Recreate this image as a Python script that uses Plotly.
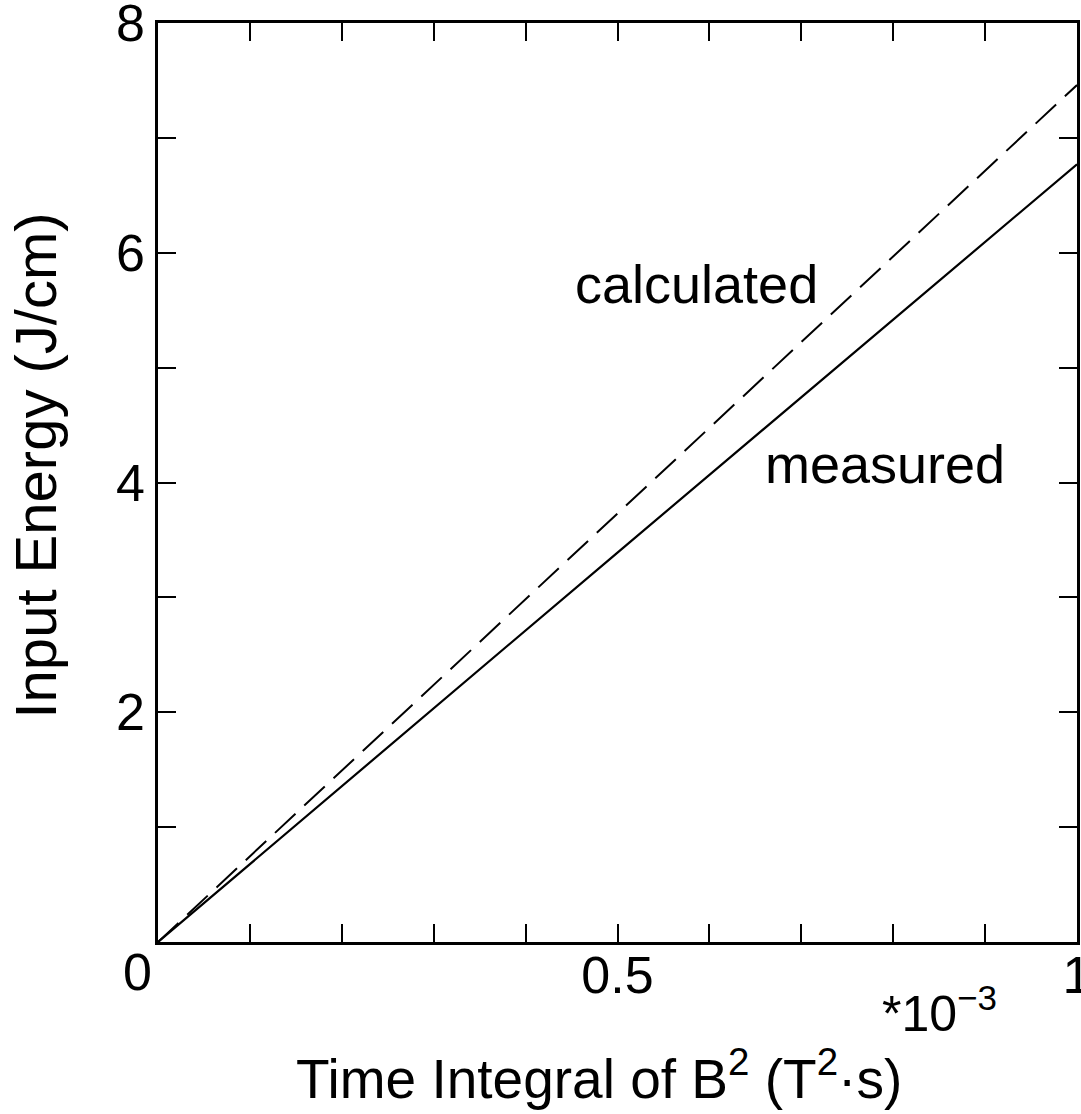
import plotly.graph_objects as go

# Data (x in units of 1e-3 T^2*s)
x_vals = [0.0, 0.5, 1.0]
measured = [0.0, 3.39, 6.77]
calculated = [0.0, 3.73, 7.46]

x_ticks = [i / 10 for i in range(11)]
x_ticktext = ["", "", "", "", "", "0.5", "", "", "", "", "1"]
y_ticks = list(range(9))
y_ticktext = ["", "", "2", "", "4", "", "6", "", "8"]

FONT = "Liberation Sans, Arial, Helvetica, sans-serif"

fig = go.Figure()
fig.add_trace(go.Scatter(x=x_vals, y=measured, mode="lines",
                         line=dict(color="black", width=2.2), showlegend=False))
fig.add_trace(go.Scatter(x=x_vals, y=calculated, mode="lines",
                         line=dict(color="black", width=2, dash="28px,12px"), showlegend=False))

fig.add_annotation(x=0.5865, y=5.73, text="calculated", showarrow=False,
                   font=dict(size=54, color="black", family=FONT), xanchor="center", yanchor="middle")
fig.add_annotation(x=0.791, y=4.16, text="measured", showarrow=False,
                   font=dict(size=54, color="black", family=FONT), xanchor="center", yanchor="middle")
fig.add_annotation(x=0, y=0, text="0", showarrow=False, xshift=-21, yshift=-30,
                   font=dict(size=52, color="black", family=FONT), xanchor="center", yanchor="middle")
fig.add_annotation(x=0.85, y=0, text="*10<sup>−3</sup>", showarrow=False, yshift=-68,
                   font=dict(size=50, color="black", family=FONT), xanchor="center", yanchor="middle")
# axis titles (placed as annotations to match the reference's off-centre positions)
fig.add_annotation(x=0.48, y=0, text="Time Integral of B<sup>2</sup> (T<sup>2</sup>·s)",
                   showarrow=False, yshift=-170, xanchor="center", yanchor="bottom",
                   font=dict(size=55, color="black", family=FONT))
fig.add_annotation(x=0, y=4.148, text="Input Energy (J/cm)", textangle=-90,
                   showarrow=False, xshift=-123, xanchor="center", yanchor="middle",
                   font=dict(size=58, color="black", family=FONT))

axis_common = dict(showgrid=False, zeroline=False, showline=True, linecolor="black",
                   linewidth=2.5, mirror="ticks", ticks="inside", ticklen=18,
                   tickwidth=2, tickcolor="black", ticklabeloverflow="allow",
                   automargin=False,
                   tickfont=dict(size=52, color="black", family=FONT))

fig.update_xaxes(range=[0, 1], tickmode="array", tickvals=x_ticks, ticktext=x_ticktext,
                 ticklabelstandoff=-14, **axis_common)
fig.update_yaxes(range=[0, 8], tickmode="array", tickvals=y_ticks, ticktext=y_ticktext,
                 **axis_common)

fig.update_layout(width=1081, height=1114, plot_bgcolor="white", paper_bgcolor="white",
                  margin=dict(l=158, r=4, t=23, b=172, autoexpand=False), showlegend=False)

# remove the default 8px page margin so the figure fills the window exactly
fig.write_html("out.html", config={"displayModeBar": False},
               post_script="document.body.style.margin='0';document.body.style.overflow='hidden';")
